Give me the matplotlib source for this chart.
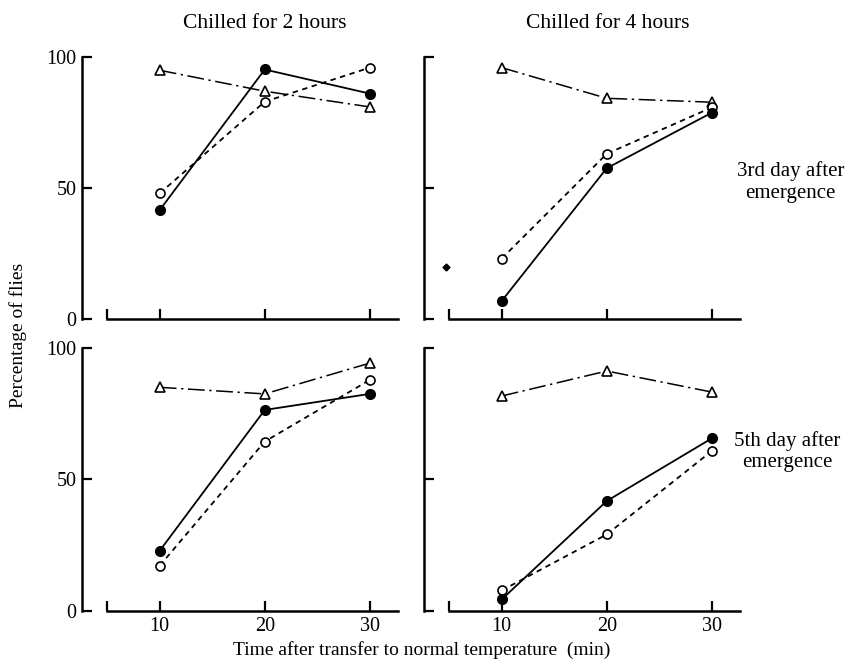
import matplotlib.pyplot as plt

plt.rcParams['font.family'] = ['Liberation Serif', 'DejaVu Serif']

# tempos (min)
tempos = [10, 20, 30]

# 3o dia, 2 horas
d3_2h_cheio = [41.6, 95.3, 86.1]
d3_2h_vazio = [48, 83, 96]
d3_2h_tri = [95, 87, 81]

# 3o dia, 4 horas
d3_4h_cheio = [6.9, 57.6, 78.8]
d3_4h_vazio = [23.1, 63.1, 80.8]
d3_4h_tri = [96, 84.3, 82.8]

# 5o dia, 2 horas
d5_2h_cheio = [22.9, 76.4, 82.5]
d5_2h_vazio = [17.2, 64.4, 87.8]
d5_2h_tri = [85, 82.5, 94.2]

# 5o dia, 4 horas
d5_4h_cheio = [4.4, 41.8, 65.6]
d5_4h_vazio = [7.8, 29.1, 60.8]
d5_4h_tri = [81.7, 91.2, 83.2]

# ponto solto no painel superior direito
ponto_x = [4.7]
ponto_y = [20]

paineis = [
    (d3_2h_cheio, d3_2h_vazio, d3_2h_tri),
    (d3_4h_cheio, d3_4h_vazio, d3_4h_tri),
    (d5_2h_cheio, d5_2h_vazio, d5_2h_tri),
    (d5_4h_cheio, d5_4h_vazio, d5_4h_tri),
]

fig = plt.figure(figsize=(8.48, 6.66), dpi=100)

posicoes = [
    [0.0967, 0.521, 0.3827, 0.401],
    [0.500, 0.521, 0.3827, 0.401],
    [0.0967, 0.0826, 0.3827, 0.403],
    [0.500, 0.0826, 0.3827, 0.403],
]

eixos = []
for i, (pos, (cheio, vazio, tri)) in enumerate(zip(posicoes, paineis)):
    ax = fig.add_axes(pos)
    eixos.append(ax)
    ax.plot(tempos, tri, color='black', lw=1.1, linestyle=(0, (11, 3, 1.5, 3)),
            marker='^', markersize=7.5, markerfacecolor='white', markeredgewidth=1.2,
            clip_on=False, zorder=3)
    ax.plot(tempos, vazio, color='black', lw=1.3, linestyle=(0, (3, 2.5)),
            marker='o', markersize=6.5, markerfacecolor='white', markeredgewidth=1.2,
            clip_on=False, zorder=4)
    ax.plot(tempos, cheio, color='black', lw=1.3, linestyle='-',
            marker='o', markersize=7, markerfacecolor='black',
            clip_on=False, zorder=5)

    ax.set_xlim(2.6, 33.5)
    ax.set_ylim(0, 102)
    for s in ['top', 'right']:
        ax.spines[s].set_visible(False)
    ax.spines['left'].set_bounds(0, 100)
    ax.spines['bottom'].set_bounds(5, 32.7)
    ax.spines['left'].set_linewidth(1.8)
    ax.spines['bottom'].set_linewidth(1.8)
    ax.set_xticks([5, 10, 20, 30])
    ax.set_yticks([0, 50, 100])
    ax.tick_params(direction='in', length=7, width=1.6, labelsize=14.5, pad=4)
    if i < 2:
        ax.set_xticklabels([])
    else:
        ax.set_xticklabels(['', '10', '20', '30'])
    if i % 2 == 1:
        ax.set_yticklabels([])
    ax.patch.set_alpha(0)

eixos[1].plot(ponto_x, ponto_y, 'D', color='black', markersize=3.5, clip_on=False)

fig.text(0.3125, 0.965, 'Chilled for 2 hours', ha='center', va='center', fontsize=15.5)
fig.text(0.717, 0.965, 'Chilled for 4 hours', ha='center', va='center', fontsize=15.5)
fig.text(0.932, 0.727, '3rd day after\nemergence', ha='center', va='center',
         fontsize=15, linespacing=1.2)
fig.text(0.928, 0.322, '5th day after\nemergence', ha='center', va='center',
         fontsize=15, linespacing=1.2)
fig.text(0.021, 0.497, 'Percentage of flies', rotation=90, ha='center', va='center',
         fontsize=14)
fig.text(0.497, 0.024, 'Time after transfer to normal temperature  (min)',
         ha='center', va='center', fontsize=14)

plt.savefig('out.png', dpi=100)
